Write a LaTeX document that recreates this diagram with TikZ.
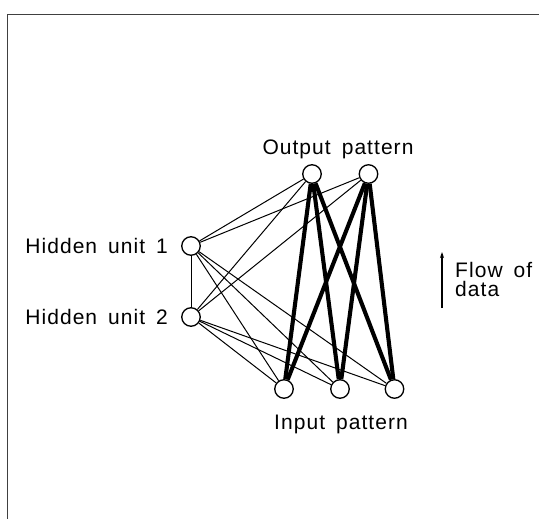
\documentclass[tikz,border=0pt]{standalone}
\usepackage{fontspec}
\setmainfont{Liberation Sans}[LetterSpace=5]
\usepackage{tikz}
\usetikzlibrary{arrows.meta,positioning}
\newcommand{\lblfont}{\fontsize{21}{19}\selectfont\spaceskip=11pt plus 2pt\relax}
\tikzset{
  unit/.style  = {circle, draw, line width=1.3pt, minimum size=18.5pt, inner sep=0pt},
  lbl/.style   = {inner sep=0pt, font=\lblfont},
  wt/.style    = {line width=1pt},
  wtbig/.style = {line width=4.1pt},
  ar/.style    = {-{Stealth[length=6pt,width=4pt]}, line width=1.1pt},
  frame/.style = {line width=1.4pt, draw=black!75},
}
\begin{document}
\begin{tikzpicture}[x=1pt, y=-1pt, node distance=13pt]
  \useasboundingbox (0,0) rectangle (539,519);
  \draw[frame] (539,14.4) -- (7.6,14.4) -- (7.6,519);
  % units
  \node[unit] (out1) at (312,174) {};
  \node[unit] (out2) at (368.5,174) {};
  \node[unit] (hid1) at (191,246) {};
  \node[unit] (hid2) at (191,317) {};
  \node[unit] (in1) at (284,389) {};
  \node[unit] (in2) at (340,389) {};
  \node[unit] (in3) at (394.5,389) {};
  % labels
  \node[lbl] (outlbl) at (338,149.5) {Output pattern};
  \node[lbl] (inlbl) at (341,424.5) {Input pattern};
  \node[lbl, left=of hid1] (hid1lbl) {Hidden unit 1};
  \node[lbl, left=of hid2] (hid2lbl) {Hidden unit 2};
  % hidden connections
  \draw[wt] (hid1)--(hid2);
  \draw[wt] (hid1)--(out1); \draw[wt] (hid1)--(out2);
  \draw[wt] (hid2)--(out1); \draw[wt] (hid2)--(out2);
  \draw[wt] (hid1)--(in1); \draw[wt] (hid1)--(in2); \draw[wt] (hid1)--(in3);
  \draw[wt] (hid2)--(in1); \draw[wt] (hid2)--(in2); \draw[wt] (hid2)--(in3);
  % direct connections
  \draw[wtbig] (in1)--(out1); \draw[wtbig] (in2)--(out1); \draw[wtbig] (in3)--(out1);
  \draw[wtbig] (in1)--(out2); \draw[wtbig] (in2)--(out2); \draw[wtbig] (in3)--(out2);
  % flow arrow
  \coordinate (flowlo) at (442,308);
  \coordinate (flowhi) at (442,252);
  \draw[ar] (flowlo)--(flowhi);
  \node[lbl, align=left, anchor=west] (flow) at (455,279) {Flow of\\data};
\end{tikzpicture}
\end{document}
